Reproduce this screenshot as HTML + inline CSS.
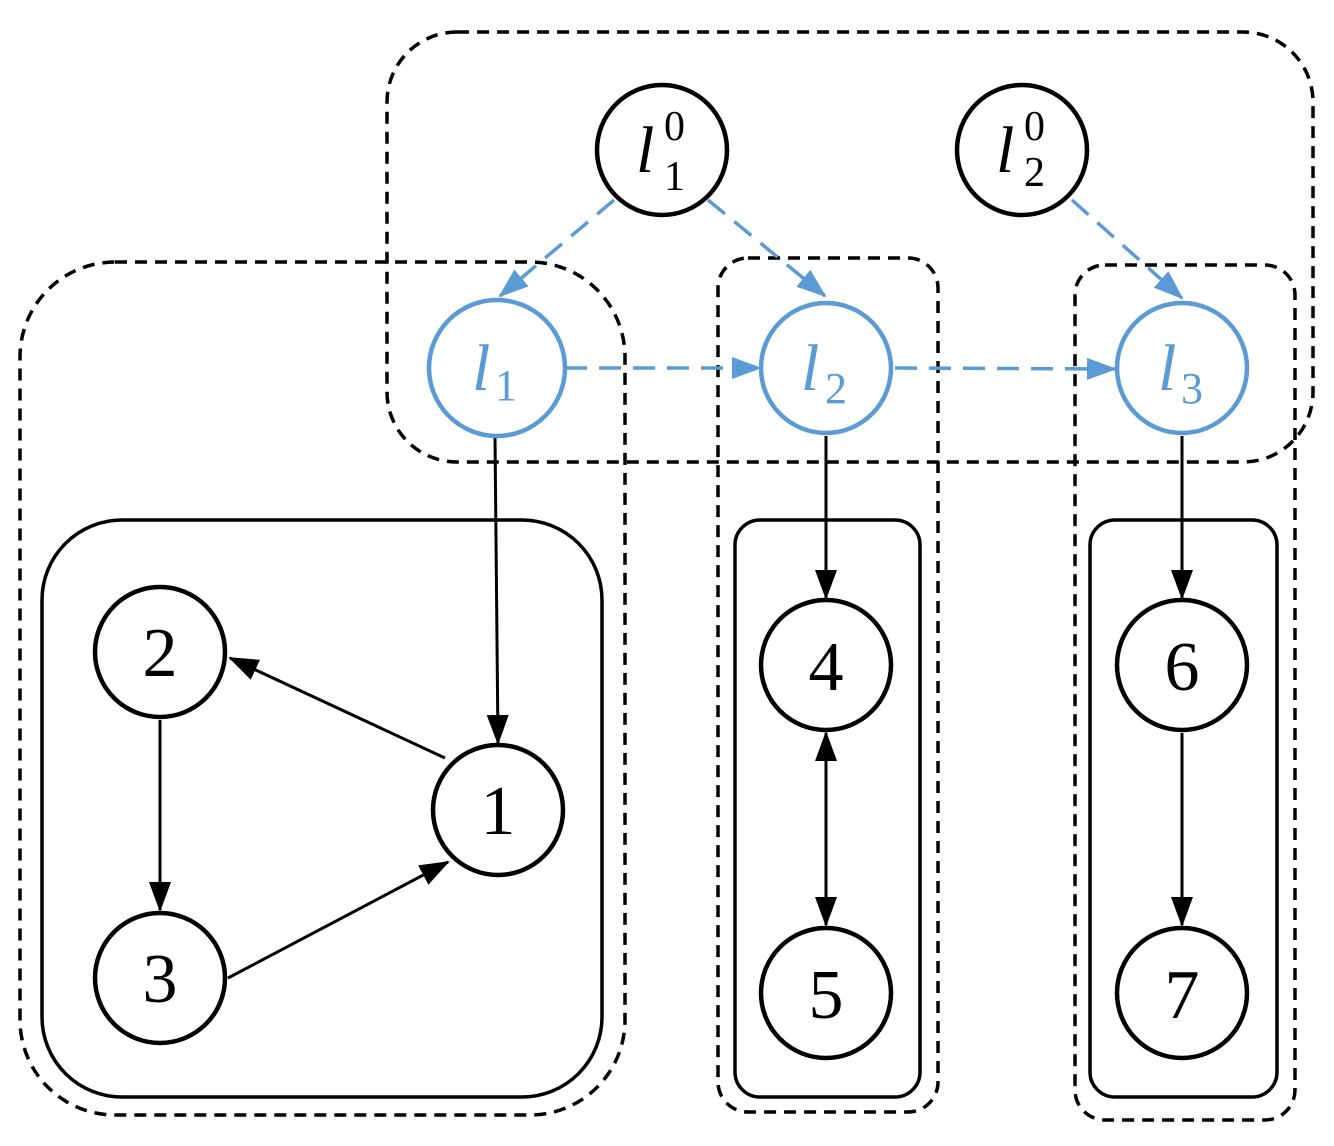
<!DOCTYPE html>
<html><head><meta charset="utf-8"><style>html,body{margin:0;padding:0;background:#fff}svg{display:block}</style></head>
<body>
<svg width="1334" height="1146" viewBox="0 0 1334 1146" xmlns="http://www.w3.org/2000/svg">
<defs>
<marker id="akb" markerWidth="30" markerHeight="30" refX="28" refY="15" orient="auto-start-reverse" markerUnits="userSpaceOnUse" viewBox="0 0 30 30"><path d="M0,4 L30,15 L0,26 z" fill="#000"/></marker>
<marker id="ab" markerWidth="30" markerHeight="30" refX="28" refY="15" orient="auto" markerUnits="userSpaceOnUse" viewBox="0 0 30 30"><path d="M0,4 L30,15 L0,26 z" fill="#5b9bd5"/></marker>
</defs>
<g fill="none" stroke="#000" stroke-width="3.5" stroke-dasharray="12,8">
<rect x="387" y="32" width="926" height="430" rx="70"/>
<rect x="20" y="262" width="605" height="853" rx="95"/>
<rect x="718" y="258" width="220" height="854" rx="30"/>
<rect x="1075" y="265" width="220" height="855" rx="30"/>
</g>
<g fill="none" stroke="#000" stroke-width="3.5">
<rect x="42" y="520" width="560" height="577" rx="80"/>
<rect x="735" y="520" width="185" height="577" rx="25"/>
<rect x="1090" y="520" width="187" height="577" rx="25"/>
</g>
<g stroke="#5b9bd5" stroke-width="3.5" stroke-dasharray="22,12" fill="none">
<line x1="614" y1="200" x2="500" y2="296" marker-end="url(#ab)"/>
<line x1="708" y1="200" x2="825" y2="296" marker-end="url(#ab)"/>
<line x1="1072" y1="200" x2="1182" y2="298" marker-end="url(#ab)"/>
<line x1="565" y1="368" x2="760" y2="368" marker-end="url(#ab)"/>
<line x1="895" y1="368" x2="1115" y2="369" marker-end="url(#ab)"/>
</g>
<g stroke="#000" stroke-width="3" fill="none">
<line x1="495" y1="436" x2="498" y2="743" marker-end="url(#akb)"/>
<line x1="445" y1="758" x2="230" y2="658" marker-end="url(#akb)"/>
<line x1="228" y1="978" x2="448" y2="862" marker-end="url(#akb)"/>
<line x1="160" y1="720" x2="160" y2="910" marker-end="url(#akb)"/>
<line x1="826" y1="436" x2="826" y2="598" marker-end="url(#akb)"/>
<line x1="826" y1="733" x2="826" y2="925" marker-start="url(#akb)" marker-end="url(#akb)"/>
<line x1="1182" y1="436" x2="1182" y2="598" marker-end="url(#akb)"/>
<line x1="1182" y1="733" x2="1182" y2="925" marker-end="url(#akb)"/>
</g>
<g fill="#fff" stroke="#000" stroke-width="4.5">
<circle cx="662" cy="150" r="65"/><circle cx="1022" cy="150" r="65"/>
<circle cx="160" cy="652" r="65"/><circle cx="498" cy="810" r="65"/><circle cx="160" cy="978" r="65"/>
<circle cx="826" cy="665" r="65"/><circle cx="826" cy="993" r="65"/>
<circle cx="1182" cy="665" r="65"/><circle cx="1182" cy="993" r="65"/>
</g>
<g fill="#fff" stroke="#5b9bd5" stroke-width="4.5">
<circle cx="497" cy="368" r="68"/><circle cx="826" cy="368" r="65"/><circle cx="1182" cy="368" r="65"/>
</g>
<g font-family="Liberation Serif, serif" font-size="70" text-anchor="middle" fill="#000">
<text x="160" y="676">2</text><text x="498" y="834">1</text><text x="160" y="1002">3</text>
<text x="826" y="690">4</text><text x="826" y="1018">5</text>
<text x="1182" y="690">6</text><text x="1182" y="1018">7</text>
</g>
<g font-family="Liberation Serif, serif" fill="#000">
<text x="636" y="172" font-size="66" font-style="italic">l</text>
<text x="664" y="140" font-size="42">0</text><text x="664" y="190" font-size="42">1</text>
<text x="996" y="172" font-size="66" font-style="italic">l</text>
<text x="1024" y="140" font-size="42">0</text><text x="1024" y="186" font-size="42">2</text>
</g>
<g font-family="Liberation Serif, serif" fill="#5b9bd5">
<text x="472" y="390" font-size="66" font-style="italic">l</text><text x="495" y="400" font-size="44">1</text>
<text x="801" y="390" font-size="66" font-style="italic">l</text><text x="825" y="403" font-size="44">2</text>
<text x="1158" y="390" font-size="66" font-style="italic">l</text><text x="1181" y="403" font-size="44">3</text>
</g>
</svg>
</body></html>
